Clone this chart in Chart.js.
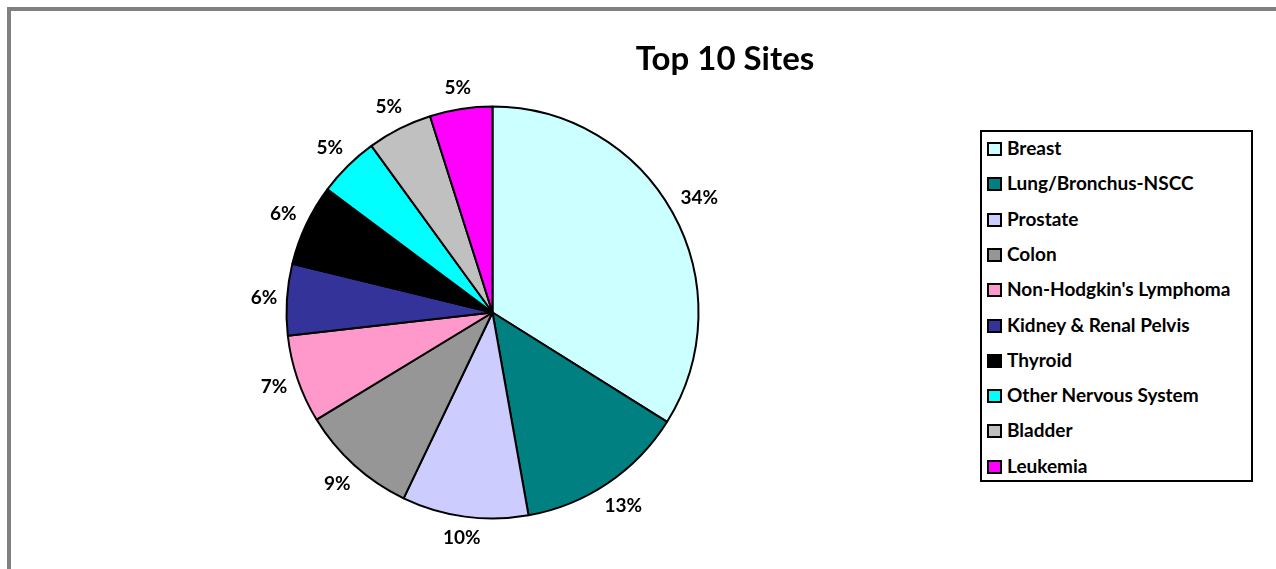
<!DOCTYPE html>
<html lang="en">
<head>
    <meta charset="UTF-8">
    <title>Top 10 Sites</title>
    <script src="https://cdn.jsdelivr.net/npm/chart.js@4.4.0/dist/chart.umd.min.js"></script>
    <style>
        body {
            margin: 0;
            background: #fff;
            font-family: Lato, "Open Sans", sans-serif;
        }
        .frame {
            position: absolute;
            left: 7px;
            top: 7px;
            width: 1300px;
            height: 600px;
            border-top: 4px solid #808080;
            border-left: 4px solid #808080;
        }
        .chart-box {
            position: absolute;
            left: 0;
            top: 0;
            width: 1276px;
            height: 569px;
        }
        .title {
            position: absolute;
            left: 525px;
            width: 400px;
            top: 37px;
            text-align: center;
            font-weight: bold;
            font-size: 33px;
        }
        .legend {
            position: absolute;
            left: 980px;
            top: 130px;
            width: 269px;
            height: 348px;
            border: 2px solid #000;
            background: #fff;
        }
        .legend-item {
            position: absolute;
            left: 5px;
            height: 22px;
            line-height: 22px;
            font-weight: bold;
            font-size: 19px;
            white-space: nowrap;
        }
        .legend-item span.sw {
            display: inline-block;
            width: 11px;
            height: 10px;
            border: 2px solid #000;
            vertical-align: -1px;
            margin-right: 5px;
        }
    </style>
</head>
<body>
    <div class="frame"></div>
    <div class="chart-box"><canvas id="pie"></canvas></div>
    <div class="title">Top 10 Sites</div>
    <div class="legend" id="legend"></div>

    <script>
        // Data
        const sites = ['Breast', 'Lung/Bronchus-NSCC', 'Prostate', 'Colon', "Non-Hodgkin's Lymphoma",
            'Kidney & Renal Pelvis', 'Thyroid', 'Other Nervous System', 'Bladder', 'Leukemia'];
        const shares = [33.9, 13.3, 9.9, 9.2, 6.9, 5.6, 6.4, 4.8, 5.1, 4.9];
        const pctLabels = ['34%', '13%', '10%', '9%', '7%', '6%', '6%', '5%', '5%', '5%'];
        const colors = ['#CCFFFF', '#008080', '#CCCCFF', '#969696', '#FF99CC',
            '#333399', '#000000', '#00FFFF', '#C0C0C0', '#FF00FF'];

        // Legend
        const legend = document.getElementById('legend');
        sites.forEach((name, i) => {
            const item = document.createElement('div');
            item.className = 'legend-item';
            item.style.top = (5 + i * 35.3) + 'px';
            item.innerHTML = `<span class="sw" style="background:${colors[i]}"></span>`;
            item.appendChild(document.createTextNode(name));
            legend.appendChild(item);
        });

        // Percent labels outside the slices
        const outsideLabels = {
            id: 'outsideLabels',
            afterDatasetsDraw(chart) {
                const ctx = chart.ctx;
                ctx.save();
                ctx.font = 'bold 19px Lato, "Open Sans", sans-serif';
                ctx.fillStyle = '#000';
                ctx.textAlign = 'center';
                ctx.textBaseline = 'middle';
                chart.getDatasetMeta(0).data.forEach((arc, i) => {
                    const p = arc.getProps(['x', 'y', 'startAngle', 'endAngle', 'outerRadius'], true);
                    const mid = (p.startAngle + p.endAngle) / 2;
                    const cos = Math.cos(mid), sin = Math.sin(mid);
                    const halfW = ctx.measureText(pctLabels[i]).width / 2;
                    const d = p.outerRadius + 9 + halfW * Math.abs(cos) + 10 * Math.abs(sin);
                    ctx.fillText(pctLabels[i], p.x + cos * d, p.y + sin * d);
                });
                ctx.restore();
            }
        };

        new Chart(document.getElementById('pie'), {
            type: 'pie',
            data: {
                labels: sites,
                datasets: [{
                    data: shares,
                    backgroundColor: colors,
                    borderColor: '#000',
                    borderWidth: 2,
                    radius: 206
                }]
            },
            options: {
                responsive: true,
                maintainAspectRatio: false,
                animation: false,
                layout: {
                    padding: { left: 286, right: 577, top: 107, bottom: 51 }
                },
                plugins: {
                    legend: { display: false },
                    tooltip: { enabled: false }
                }
            },
            plugins: [outsideLabels]
        });
    </script>
</body>
</html>
